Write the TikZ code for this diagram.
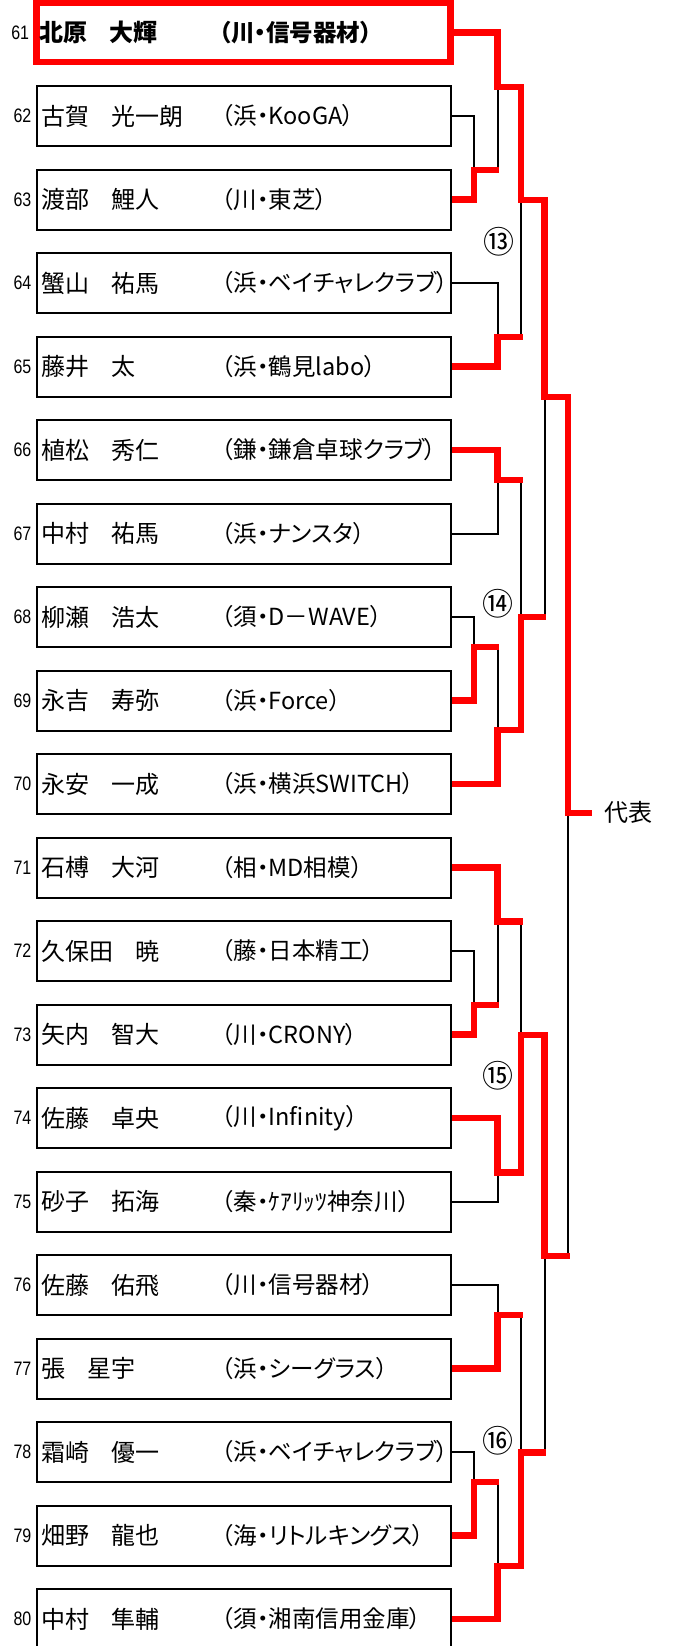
\documentclass[tikz,border=0pt]{standalone}
\usepackage{fontspec}
\usepackage{graphicx}
\setmainfont{Noto Sans CJK JP}[RawFeature=+palt]
\newfontfamily\numfont{Liberation Sans}
\definecolor{bred}{RGB}{255,0,0}
\tikzset{
  box/.style={draw=black, line width=2pt, minimum width=414pt, minimum height=60pt, inner sep=0pt},
  winbox/.style={draw=bred, line width=6.5pt, minimum width=414pt, minimum height=59pt, inner sep=0pt},
  nametext/.style={anchor=west, inner sep=0pt, font=\fontsize{24pt}{28pt}\selectfont},
  clubtext/.style={anchor=west, inner sep=0pt, font=\fontsize{23.5pt}{28pt}\selectfont},
  numtext/.style={anchor=east, inner sep=0pt, font=\numfont\fontsize{19.5pt}{21pt}\selectfont},
  roundlabel/.style={inner sep=0pt, font=\fontsize{31pt}{34pt}\selectfont},
  loser/.style={draw=black, line width=2pt},
  winner/.style={draw=bred, line width=6.5pt, shorten >=-1.5pt},
}
\begin{document}
\begin{tikzpicture}[x=1pt,y=-1pt]
\useasboundingbox (0,0) rectangle (672,1646);

% seed 61 (winner)
\node[winbox] (b61) at (243.5,32.5) {};
\node[numtext] (n61) at ([xshift=-4pt]b61.west) {\scalebox{0.82}[1]{61}};
\node[nametext] (t61) at ([xshift=6pt]b61.west) {\bfseries 北原\hspace{0.9em}大輝};
\node[clubtext] (c61) at ([xshift=186pt]b61.west) {\bfseries （川・信号器材）};

\foreach \n/\fam/\giv/\club in {
  62/古賀/光一朗/（浜・KooGA）,
  63/渡部/鯉人/（川・東芝）,
  64/蟹山/祐馬/（浜・ベイチャレクラブ）,
  65/藤井/太/（浜・鶴見labo）,
  66/植松/秀仁/（鎌・鎌倉卓球クラブ）,
  67/中村/祐馬/（浜・ナンスタ）,
  68/柳瀬/浩太/（須・D－WAVE）,
  69/永吉/寿弥/（浜・Force）,
  70/永安/一成/（浜・横浜SWITCH）,
  71/石榑/大河/（相・MD相模）,
  72/久保田/暁/（藤・日本精工）,
  73/矢内/智大/（川・CRONY）,
  74/佐藤/卓央/（川・Infinity）,
  75/砂子/拓海/（秦・ｹｱﾘｯﾂ神奈川）,
  76/佐藤/佑飛/（川・信号器材）,
  77/張/星宇/（浜・シーグラス）,
  78/霜崎/優一/（浜・ベイチャレクラブ）,
  79/畑野/龍也/（海・リトルキングス）,
  80/中村/隼輔/（須・湘南信用金庫）}{
  \pgfmathsetmacro\yy{32.5+83.5*(\n-61)}
  \node[box] (b\n) at (244,\yy) {};
  \node[numtext] (n\n) at ([xshift=-4.5pt]b\n.west) {\scalebox{0.82}[1]{\n}};
  \node[nametext] (t\n) at ([xshift=5.5pt]b\n.west) {\fam\hspace{0.9em}\giv};
  \node[clubtext] (c\n) at ([xshift=185.5pt]b\n.west) {\club};
}

% join points
\coordinate (A1) at (474,170);
\coordinate (A2) at (497.5,87);
\coordinate (A3) at (497.5,337);
\coordinate (G13) at (521,200);
\coordinate (B1) at (497.5,480);
\coordinate (B2) at (474,647);
\coordinate (B3) at (497.5,730);
\coordinate (G14) at (521,617);
\coordinate (C1) at (474,1005);
\coordinate (C2) at (497.5,921.7);
\coordinate (C3) at (497.5,1172.5);
\coordinate (G15) at (521,1035);
\coordinate (D1) at (497.5,1315);
\coordinate (D2) at (474,1482);
\coordinate (D3) at (497.5,1566);
\coordinate (G16) at (521,1452.5);
\coordinate (S1) at (544.5,397);
\coordinate (S2) at (544.5,1256);
\coordinate (F) at (568,813);
\coordinate (E) at (590.5,813);

% black bracket
\draw[loser] (b62.east) -| (A1);
\draw[loser] (b63.east) -| (A1);
\draw[loser] (b61.east) -| (A2);
\draw[loser] (A1) -| (A2);
\draw[loser] (b64.east) -| (A3);
\draw[loser] (b65.east) -| (A3);
\draw[loser] (A2) -| (G13);
\draw[loser] (A3) -| (G13);
\draw[loser] (b66.east) -| (B1);
\draw[loser] (b67.east) -| (B1);
\draw[loser] (b68.east) -| (B2);
\draw[loser] (b69.east) -| (B2);
\draw[loser] (B2) -| (B3);
\draw[loser] (b70.east) -| (B3);
\draw[loser] (B1) -| (G14);
\draw[loser] (B3) -| (G14);
\draw[loser] (b72.east) -| (C1);
\draw[loser] (b73.east) -| (C1);
\draw[loser] (b71.east) -| (C2);
\draw[loser] (C1) -| (C2);
\draw[loser] (b74.east) -| (C3);
\draw[loser] (b75.east) -| (C3);
\draw[loser] (C2) -| (G15);
\draw[loser] (C3) -| (G15);
\draw[loser] (b76.east) -| (D1);
\draw[loser] (b77.east) -| (D1);
\draw[loser] (b78.east) -| (D2);
\draw[loser] (b79.east) -| (D2);
\draw[loser] (D2) -| (D3);
\draw[loser] (b80.east) -| (D3);
\draw[loser] (D1) -| (G16);
\draw[loser] (D3) -| (G16);
\draw[loser] (G13) -| (S1);
\draw[loser] (G14) -| (S1);
\draw[loser] (G15) -| (S2);
\draw[loser] (G16) -| (S2);
\draw[loser] (S1) -| (F);
\draw[loser] (S2) -| (F);

% red winner paths
\draw[winner] (b61.east) -| (A2) -| (G13) -| (S1) -| (F) -- (E);
\draw[winner] (b63.east) -| (A1) -- (A1 -| A2);
\draw[winner] (b65.east) -| (A3) -- (A3 -| G13);
\draw[winner] (b66.east) -| (B1) -- (B1 -| G14);
\draw[winner] (b69.east) -| (B2) -- (B2 -| B3);
\draw[winner] (b70.east) -| (B3) -| (G14) -- (G14 -| S1);
\draw[winner] (b71.east) -| (C2) -- (C2 -| G15);
\draw[winner] (b73.east) -| (C1) -- (C1 -| C2);
\draw[winner] (b74.east) -| (C3) -| (G15) -| (S2) -- (S2 -| F);
\draw[winner] (b77.east) -| (D1) -- (D1 -| G16);
\draw[winner] (b79.east) -| (D2) -- (D2 -| D3);
\draw[winner] (b80.east) -| (D3) -| (G16) -- (G16 -| S2);

% labels
\node[roundlabel] (r13) at (499,242) {⑬};
\node[roundlabel] (r14) at (498,604) {⑭};
\node[roundlabel] (r15) at (498,1076) {⑮};
\node[roundlabel] (r16) at (498,1441) {⑯};
\node[anchor=west, inner sep=0pt, font=\fontsize{24pt}{28pt}\selectfont] (rep) at (604,812) {代表};
\end{tikzpicture}
\end{document}
